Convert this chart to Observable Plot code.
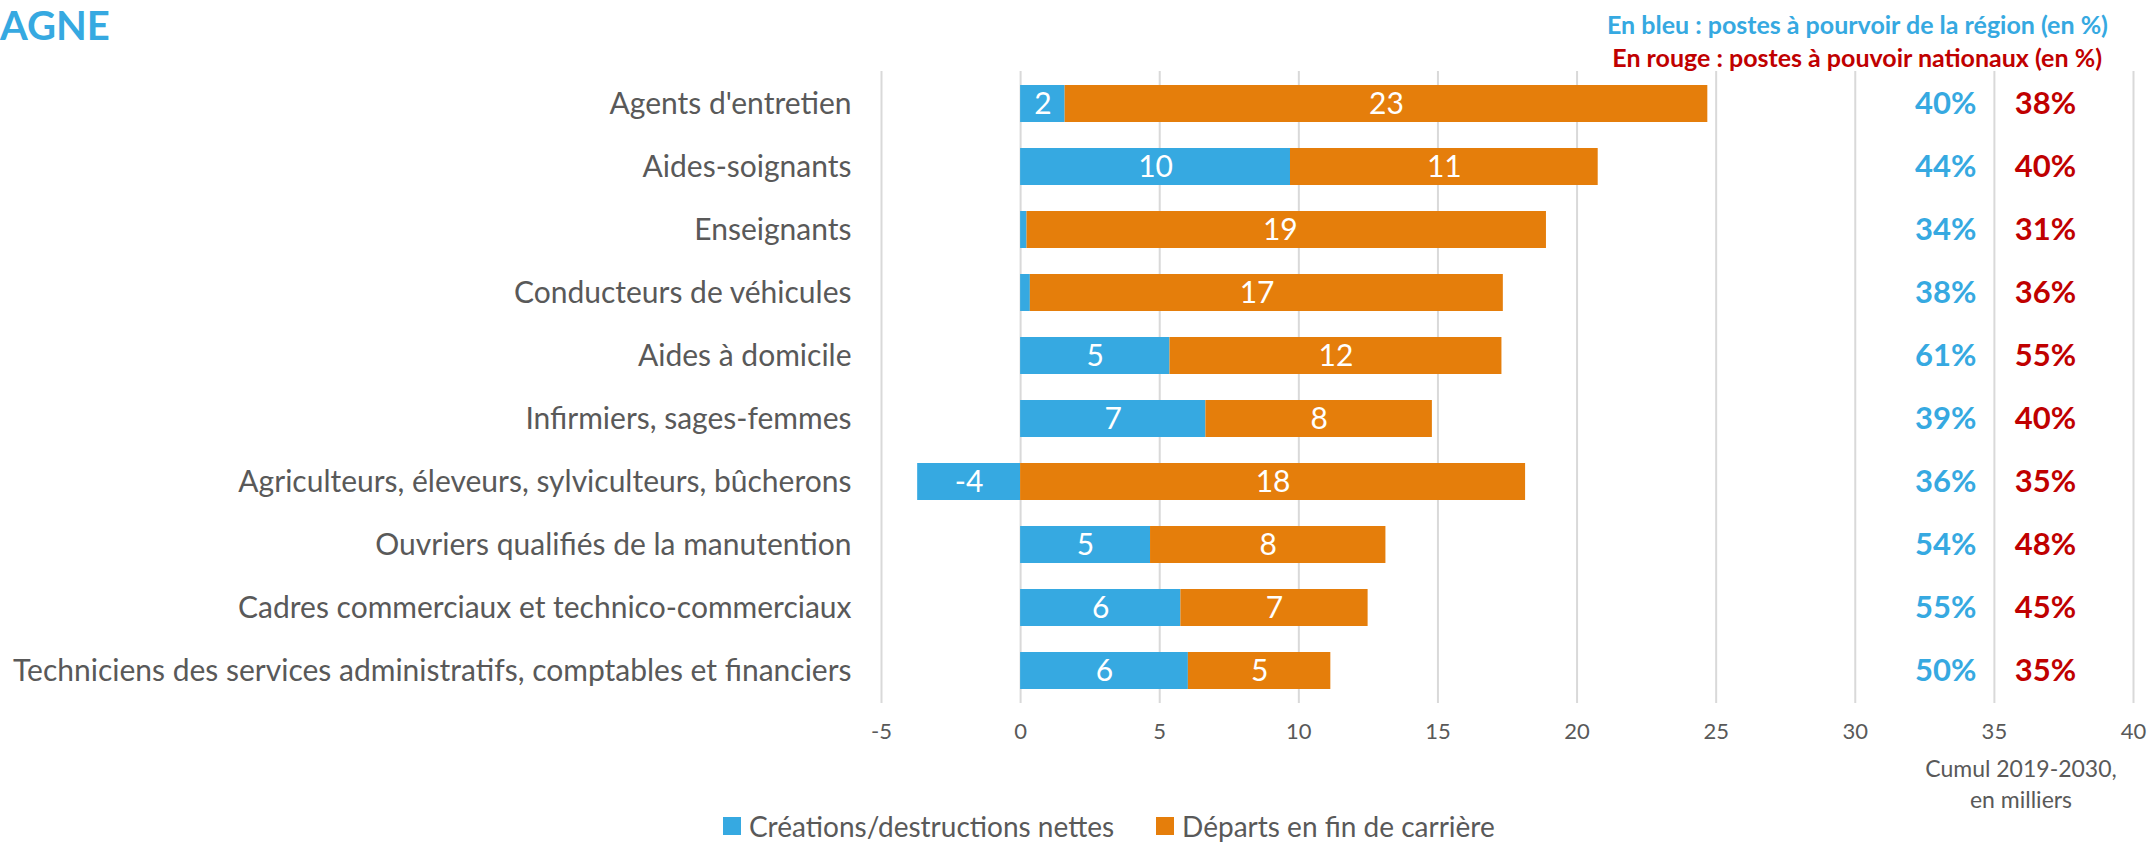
<!DOCTYPE html>
<html>
<head>
<meta charset="utf-8">
<script src="https://cdn.jsdelivr.net/npm/d3@7"></script>
<script src="https://cdn.jsdelivr.net/npm/@observablehq/plot@0.6"></script>
<style>
  html, body { margin: 0; padding: 0; background: #fff; }
  #wrap { position: relative; width: 2151px; height: 845px; overflow: hidden; font-family: Lato, "Open Sans", sans-serif; }
  #wrap svg { position: absolute; left: 0; top: 0; }
  .ov { position: absolute; white-space: nowrap; line-height: 1; }
  #title { left: 0px; top: 5px; font-size: 40px; font-weight: 700; color: #36A9E1; }
  #h1 { right: 43px; top: 12px; font-size: 25px; font-weight: 700; color: #36A9E1; }
  #h2 { right: 49px; top: 45px; font-size: 25px; font-weight: 700; color: #C00000; }
  #unit { left: 1920px; top: 753px; width: 202px; text-align: center; font-size: 23px; color: #595959; line-height: 31px; }
  #legend { left: 723px; top: 812px; height: 28px; font-size: 28px; color: #595959; display: flex; align-items: center; }
  .sw { display: inline-block; width: 18px; height: 18px; margin-right: 8px; }
</style>
</head>
<body>
<div id="wrap">
  <div class="ov" id="title">AGNE</div>
  <div class="ov" id="h1">En bleu : postes à pourvoir de la région (en %)</div>
  <div class="ov" id="h2">En rouge : postes à pouvoir nationaux (en %)</div>
  <div class="ov" id="unit">Cumul 2019-2030,<br>en milliers</div>
  <div class="ov" id="legend">
    <span class="sw" style="background:#36A9E1"></span><span>Créations/destructions nettes</span>
    <span class="sw" style="background:#E57E0B; margin-left:42px"></span><span>Départs en fin de carrière</span>
  </div>
</div>
<script>
const categories = [
  "Agents d'entretien",
  "Aides-soignants",
  "Enseignants",
  "Conducteurs de véhicules",
  "Aides à domicile",
  "Infirmiers, sages-femmes",
  "Agriculteurs, éleveurs, sylviculteurs, bûcherons",
  "Ouvriers qualifiés de la manutention",
  "Cadres commerciaux et technico-commerciaux",
  "Techniciens des services administratifs, comptables et financiers"
];
const netCreations = [1.6, 9.7, 0.23, 0.35, 5.37, 6.66, -3.7, 4.67, 5.76, 6.03];
const departs = [23.1, 11.06, 18.67, 17.0, 11.93, 8.14, 18.15, 8.46, 6.73, 5.12];
const regionPct = ["40%", "44%", "34%", "38%", "61%", "39%", "36%", "54%", "55%", "50%"];
const nationalPct = ["38%", "40%", "31%", "36%", "55%", "40%", "35%", "48%", "45%", "35%"];
const seriesNames = ["Créations/destructions nettes", "Départs en fin de carrière"];
const xTicks = [-5, 0, 5, 10, 15, 20, 25, 30, 35, 40];

const blue = "#36A9E1", orange = "#E57E0B", red = "#C00000", grey = "#595959";
const regionCol = 34.35, nationalCol = 35.73;

const rows = [];
categories.forEach((c, i) => {
  rows.push({cat: c, series: seriesNames[0], value: netCreations[i]});
  rows.push({cat: c, series: seriesNames[1], value: departs[i]});
});
const labelRows = rows.filter(d => Math.round(d.value) !== 0);
const pctRows = categories.map((c, i) => ({cat: c, reg: regionPct[i], nat: nationalPct[i]}));

const chart = Plot.plot({
  width: 2151,
  height: 845,
  marginLeft: 881,
  marginRight: 18,
  marginTop: 71,
  marginBottom: 142,
  style: {fontFamily: "Lato, 'Open Sans', sans-serif", background: "transparent"},
  x: {domain: [-5, 40], ticks: xTicks},
  y: {domain: categories, paddingInner: 0.42, paddingOuter: 0.21},
  color: {domain: seriesNames, range: [blue, orange]},
  marks: [
    Plot.gridX(xTicks, {stroke: "#D9D9D9", strokeOpacity: 1, strokeWidth: 2}),
    Plot.barX(rows, Plot.stackX({x: "value", y: "cat", fill: "series", order: seriesNames})),
    Plot.text(labelRows, Plot.stackX({x: "value", y: "cat", z: "series", order: seriesNames, text: d => String(Math.round(d.value)), fill: "white", fontSize: 30})),
    Plot.text(pctRows, {x: () => regionCol, y: "cat", text: "reg", textAnchor: "end", fill: blue, fontWeight: "bold", fontSize: 31}),
    Plot.text(pctRows, {x: () => nationalCol, y: "cat", text: "nat", textAnchor: "start", fill: red, fontWeight: "bold", fontSize: 31}),
    Plot.axisY({tickSize: 0, tickPadding: 30, fontSize: 30, fill: grey, label: null}),
    Plot.axisX({ticks: xTicks, tickSize: 0, tickPadding: 20, fontSize: 22, fill: grey, label: null, tickFormat: d => String(d)})
  ]
});
document.getElementById("wrap").prepend(chart);
</script>
</body>
</html>
